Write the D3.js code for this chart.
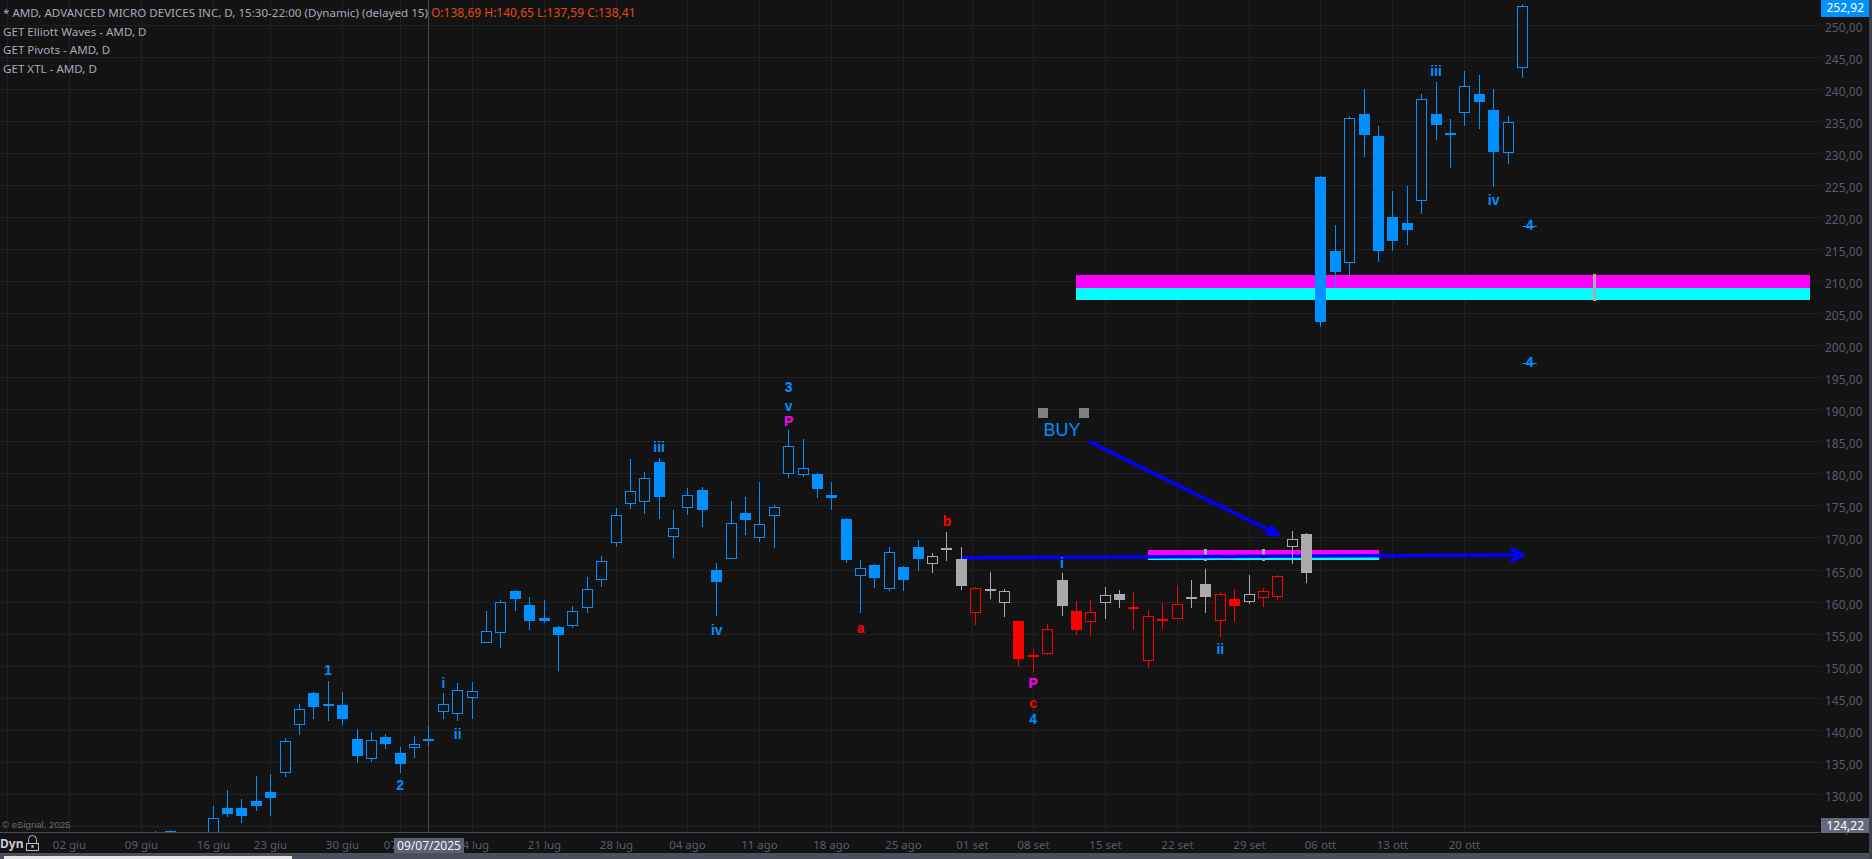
<!DOCTYPE html>
<html>
<head>
<meta charset="utf-8">
<script src="https://cdn.jsdelivr.net/npm/d3@7"></script>
<style>
  html, body { margin: 0; padding: 0; background: #131313; overflow: hidden; }
  svg { display: block; }
  text { font-family: "Noto Sans", sans-serif; }
</style>
</head>
<body>
<svg id="chart"></svg>
<script>
// first bar in the arrays sits at this index (02 giu = 0)
const firstBar = 6;
const opens = [123.5,124.2,122.8,122.1,122.6,127.81,127.81,128.91,130.31,133.39,140.89,145.78,144.11,143.96,138.65,135.57,138.96,136.46,137.29,138.69,142.97,142.66,145.16,153.7,155.26,161.72,159.53,157.5,156.09,156.35,159.17,163.59,169.22,175.31,175.63,181.88,170.16,174.69,177.5,165,166.82,173.91,170.1,173.44,180,179.84,180,176.72,172.97,164.22,165.78,162.14,165.47,168.59,166.04,168.44,166.77,158.39,162.08,159.95,157.08,151.77,151.98,163.49,158.65,156.98,159.95,161.3,159.27,150.89,157.4,157.45,160.83,162.86,157.14,160.52,160.1,160.73,160.89,168.7,170.68,226.3,214.74,212.92,236.15,232.71,220.05,219.11,222.6,236.15,233.18,236.35,239.27,236.77,230.1,243.39];
const highs = [124.3,124.4,123.6,123.4,128.18,130.68,129.27,132.86,133.18,138.75,144.11,145.99,147.71,145.99,140.21,139.74,139.43,137.4,139.11,140.65,145.78,147.34,147.55,158.65,160.36,161.93,160.78,160.36,156.3,159.43,163.91,167.24,174.69,182.34,180.31,182.5,174.38,177.81,177.97,166.09,175.78,176.41,178.75,175.16,186.77,185.47,180.21,178.75,173.18,166.56,165.99,168.59,165.63,169.69,167.66,170.94,168.59,162.4,164.74,162.03,157.24,152.66,156.61,164.58,160.21,160.36,162.4,161.93,161.61,158.8,159.84,162.66,163.49,165.21,161.61,162.03,164.27,162.24,164.22,171.15,170.7,226.56,218.8,235.83,240.05,234.27,224.11,224.9,239.27,241.15,235.36,242.86,242.24,240.05,235.83,253.28];
const lows = [122.4,121.9,121.6,120.9,121.4,126.5,125.57,127.4,126.67,132.76,139.32,141.82,141.51,140.89,134.95,135.05,137.14,133.33,135.68,137.59,141.82,141.51,141.82,153.54,152.76,158.54,155.68,156.72,149.3,155.89,158.23,162.29,168.54,174.58,173.7,172.92,166.82,173.54,171.67,157.76,166.67,170.42,169.32,168.39,179.32,179.48,176.2,174.32,166.04,158.23,162.14,161.67,161.67,164.79,164.58,166.46,161.82,156.46,160.52,157.71,150.05,149.11,151.77,157.87,154.9,154.74,157.4,159.11,155.68,149.74,155.83,157.45,159.11,158.33,154.58,156.93,159.74,159.27,160.36,165.99,163.02,202.86,209.06,210.57,229.43,213.02,214.74,215.68,220.52,232.08,227.71,234.27,233.8,224.74,228.33,241.77];
const closes = [124,123.1,122.2,121.4,126.25,126.98,126.67,128.23,129.48,138.23,143.28,143.7,143.85,141.77,136.04,138.44,137.92,134.79,137.71,138.41,144.06,146.25,146.09,155.42,160,160.42,156.98,156.98,154.79,158.54,162.03,166.35,173.54,177.29,179.32,176.35,171.51,176.67,174.32,163.07,172.29,172.76,172.14,174.79,184.32,180.89,177.6,176.2,166.51,165.16,163.7,167.66,163.39,166.67,167.03,168.18,162.55,162.19,161.82,161.72,151.15,151.35,155.78,159.43,155.68,158.44,161.09,160.36,158.96,157.81,157.08,159.69,160.52,160.83,161.25,159.43,161.25,161.72,163.91,169.69,164.58,203.65,211.46,235.47,232.86,214.74,216.3,218.02,238.44,234.43,232.86,240.47,238.02,230.21,234.84,252.86];
// b blue, g gray, r red
const tones = "bbbbbbbbbbbbbbbbbbbbbbbbbbbbbbbbbbbbbbbbbbbbbbbbbbbbbb" + "gggrggrrrgrrggrrrrggrrgrrgg" + "bbbbbbbbbbbbbbb";

const tickBars = [0,5,10,14,19,23,28,33,38,43,48,53,58,62.77,67,72,77,82,87,92,97];
const tickLabels = ["02 giu","09 giu","16 giu","23 giu","30 giu","07 lug","14 lug","21 lug","28 lug","04 ago","11 ago","18 ago","25 ago","01 set","08 set","15 set","22 set","29 set","06 ott","13 ott","20 ott"];
const extraGridBars = [-4.27];
const priceTicks = d3.range(125, 255, 5);

const waveText = ["1","2","i","ii","iii","iv","3","v","P","a","b","i","P","c","4","ii","iii","iv","4","4"];
const waveBars = [18,23,26,27,41,45,50,50,50,55,61,69,67,67,67,80,95,99,101.5,101.5];
const wavePrices = [149.45,131.5,147.4,139.46,184.2,155.64,193.61,190.65,188.2,156,172.6,166.04,147.3,144.3,141.8,152.7,242.92,222.75,218.9,197.5];
const waveTones = ["b","b","b","b","b","b","b","b","m","r","r","b","m","r","b","b","b","b","b","b"];

const dashPrices = [218.68, 197.25];
const dashBars = [101, 102];

// zone: from bar, to bar, top, middle, bottom
const zoneFrom = [75, 70];
const zoneTo = [91, 121];
const zoneTop = [168.12, 211.04];
const zoneMid = [167.05, 209.05];
const zoneBottom = [166.57, 207.1];

const markerBars = [79, 83, 106];
const markerTop = [168.27, 168.27, 211.19];
const markerBottom = [166.45, 166.45, 206.97];

const buyBars = [67.68, 70.53];
const buyPrice = 189.5;
const arrowA = [[70.9, 185.02], [84.08, 170.46]];
const arrowB = [[62, 166.92], [101, 167.35]];

const colors = { b: "#0090ff", g: "#a9a9ae", r: "#ff0000", m: "#ff00ff" };
const bg = "#131313";
const gridColor = "#1e2024";
const axisText = "#565b6c";

const W = 1872, H = 859, plotRight = 1820, plotBottom = 832;

const svg = d3.select("#chart").attr("width", W).attr("height", H);

const x = d3.scaleLinear().domain([0, 101]).range([69.3, 1522.4]);
const y = d3.scaleLinear().domain([130, 250]).range([794.3, 25.3]);
const px = v => Math.floor(v) + 0.5;

svg.append("rect").attr("width", W).attr("height", H).attr("fill", bg);

svg.append("defs").append("clipPath").attr("id", "plot")
  .append("rect").attr("width", plotRight).attr("height", plotBottom);

// grid + axes
const yAxis = svg.append("g").attr("class", "y-axis")
  .call(d3.axisRight(y).tickValues(priceTicks).tickSize(plotRight).tickPadding(5).offset(0)
    .tickFormat(d => d3.format(".2f")(d).replace(".", ",")));
yAxis.select(".domain").remove();
yAxis.selectAll(".tick").attr("transform", d => `translate(0,${px(y(d))})`);
yAxis.selectAll("line").attr("stroke", gridColor).attr("shape-rendering", "crispEdges");
yAxis.selectAll("text").attr("fill", axisText).style("font-size", "12px").attr("dy", "0.5em");

const xAxis = svg.append("g").attr("class", "x-axis")
  .attr("transform", `translate(0,${plotBottom})`)
  .call(d3.axisBottom(x).tickValues(extraGridBars.concat(tickBars)).tickSize(-plotBottom).tickPadding(9).offset(0)
    .tickFormat(d => { const i = tickBars.indexOf(d); return i < 0 ? "" : tickLabels[i]; }));
xAxis.select(".domain").remove();
xAxis.selectAll(".tick").attr("transform", d => `translate(${px(x(d))},0)`);
xAxis.selectAll("line").attr("stroke", gridColor).attr("shape-rendering", "crispEdges");
xAxis.selectAll("text").attr("fill", axisText).style("font-size", "11.5px");

const plot = svg.append("g").attr("clip-path", "url(#plot)");

// crosshair
plot.append("line")
  .attr("x1", px(x(25))).attr("x2", px(x(25))).attr("y1", 0).attr("y2", plotBottom)
  .attr("stroke", "#464a59");

// zones
zoneFrom.forEach((from, i) => {
  plot.append("rect")
    .attr("x", Math.round(x(from))).attr("width", Math.round(x(zoneTo[i])) - Math.round(x(from)))
    .attr("y", Math.round(y(zoneTop[i]))).attr("height", Math.round(y(zoneMid[i])) - Math.round(y(zoneTop[i])))
    .attr("fill", "#ff00ff");
  plot.append("rect")
    .attr("x", Math.round(x(from))).attr("width", Math.round(x(zoneTo[i])) - Math.round(x(from)))
    .attr("y", Math.round(y(zoneMid[i]))).attr("height", Math.round(y(zoneBottom[i])) - Math.round(y(zoneMid[i])))
    .attr("fill", "#00ffff");
});

markerBars.forEach((b, i) => {
  plot.append("rect")
    .attr("x", Math.floor(x(b)) - 1).attr("width", 3)
    .attr("y", Math.round(y(markerTop[i]))).attr("height", Math.round(y(markerBottom[i])) - Math.round(y(markerTop[i])))
    .attr("fill", colors.g);
});
plot.append("line")
  .attr("x1", Math.round(x(80))).attr("x2", Math.round(x(81))).attr("y1", px(y(166.58))).attr("y2", px(y(166.58)))
  .attr("stroke", colors.g);

// arrows
const lineGen = d3.line().x(d => x(d[0])).y(d => y(d[1]));
function drawArrow(pts, head, spread, filled) {
  plot.append("path").attr("d", lineGen(pts))
    .attr("fill", "none").attr("stroke", "#0000ff").attr("stroke-width", 3.6);
  const x2 = x(pts[1][0]), y2 = y(pts[1][1]);
  const a = Math.atan2(y2 - y(pts[0][1]), x2 - x(pts[0][0]));
  const p1 = [x2 - head * Math.cos(a - spread), y2 - head * Math.sin(a - spread)];
  const p2 = [x2 - head * Math.cos(a + spread), y2 - head * Math.sin(a + spread)];
  plot.append("path").attr("d", `M${p1}L${x2},${y2}L${p2}` + (filled ? "Z" : ""))
    .attr("fill", filled ? "#0000ff" : "none").attr("stroke", "#0000ff").attr("stroke-width", filled ? 2.5 : 4)
    .attr("stroke-linecap", "round").attr("stroke-linejoin", "round");
}
drawArrow(arrowB, 12, 0.5, false);

// candles
const bars = opens.map((o, i) => ({
  idx: i + firstBar, o, h: highs[i], l: lows[i], c: closes[i], tone: colors[tones[i]]
}));
const candle = plot.selectAll(".candle").data(bars).enter().append("g").attr("class", "candle");
candle.append("line")
  .attr("x1", d => px(x(d.idx))).attr("x2", d => px(x(d.idx)))
  .attr("y1", d => Math.round(y(d.h))).attr("y2", d => Math.round(y(d.l)))
  .attr("stroke", d => d.tone).attr("shape-rendering", "crispEdges");
candle.filter(d => d.c < d.o).append("rect")
  .attr("x", d => Math.floor(x(d.idx)) - 5).attr("width", 11)
  .attr("y", d => Math.round(y(d.o)))
  .attr("height", d => Math.max(2, Math.round(y(d.c)) - Math.round(y(d.o))))
  .attr("fill", d => d.tone);
candle.filter(d => d.c >= d.o).append("rect")
  .attr("x", d => Math.floor(x(d.idx)) - 5 + 0.5).attr("width", 10)
  .attr("y", d => px(y(d.c)))
  .attr("height", d => Math.max(1, px(y(d.o)) - px(y(d.c))))
  .attr("fill", bg).attr("stroke", d => d.tone);

drawArrow(arrowA, 12, 0.42, true);

// wave labels
plot.selectAll(".wave").data(waveText).enter().append("text")
  .attr("class", "wave")
  .attr("x", (d, i) => x(waveBars[i]))
  .attr("y", (d, i) => y(wavePrices[i]))
  .attr("text-anchor", "middle").attr("dominant-baseline", "central")
  .attr("fill", (d, i) => colors[waveTones[i]])
  .style("font-family", "'Liberation Sans', sans-serif").style("font-size", "14px").style("font-weight", "bold")
  .text(d => d);

dashPrices.forEach(p => {
  plot.append("line")
    .attr("x1", x(dashBars[0])).attr("x2", x(dashBars[1])).attr("y1", px(y(p))).attr("y2", px(y(p)))
    .attr("stroke", colors.b);
});

// BUY annotation
buyBars.forEach(b => {
  plot.append("rect")
    .attr("x", Math.round(x(b)) - 5).attr("y", Math.round(y(buyPrice)) - 5)
    .attr("width", 10).attr("height", 10).attr("fill", "#808080");
});
plot.append("text")
  .attr("x", x(69)).attr("y", y(185.9))
  .attr("text-anchor", "middle").attr("fill", colors.b)
  .style("font-family", "'Liberation Sans', sans-serif").style("font-size", "18px")
  .text("BUY");

// header
const headerColor = "#a3abbc";
svg.append("text").attr("x", 3).attr("y", 17).attr("fill", headerColor).style("font-size", "11.6px")
  .text("* AMD, ADVANCED MICRO DEVICES INC, D, 15:30-22:00 (Dynamic) (delayed 15)");
svg.append("text").attr("x", 431).attr("y", 17).attr("fill", "#e8480f").style("font-size", "12px")
  .text("O:138,69 H:140,65 L:137,59 C:138,41");
["GET Elliott Waves - AMD, D", "GET Pivots - AMD, D", "GET XTL - AMD, D"].forEach((t, i) => {
  svg.append("text").attr("x", 3).attr("y", 36 + i * 18.3).attr("fill", headerColor).style("font-size", "11.6px").text(t);
});

svg.append("text").attr("x", 2).attr("y", 828).attr("fill", "#6c6c6c")
  .style("font-family", "'Liberation Sans', sans-serif").style("font-size", "9.6px")
  .text("© eSignal, 2025");

// axis line, crosshair date, price boxes
svg.append("line").attr("x1", 0).attr("x2", plotRight).attr("y1", plotBottom + 0.5).attr("y2", plotBottom + 0.5).attr("stroke", "#464a59");

svg.append("rect").attr("x", 394).attr("y", 838).attr("width", 70).attr("height", 15).attr("fill", "#5c6174");
svg.append("text").attr("x", px(x(25)) + 0.5).attr("y", 850).attr("text-anchor", "middle").attr("fill", "#f2f2f2")
  .style("font-size", "12px").text("09/07/2025");

svg.append("rect").attr("x", 1821).attr("y", 0).attr("width", 48).attr("height", 17).attr("fill", colors.b);
svg.append("text").attr("x", 1864).attr("y", 12).attr("text-anchor", "end").attr("fill", "#fff")
  .style("font-size", "12px").text("252,92");
svg.append("rect").attr("x", 1821).attr("y", 818).attr("width", 48).attr("height", 15).attr("fill", "#656b7e");
svg.append("text").attr("x", 1864).attr("y", 830).attr("text-anchor", "end").attr("fill", "#fff")
  .style("font-size", "12px").text("124,22");

// bottom and right chrome
svg.append("rect").attr("x", 0).attr("y", 853).attr("width", W).attr("height", 6).attr("fill", "#4a4e5e");
svg.append("rect").attr("x", 4).attr("y", 856).attr("width", 288).attr("height", 3).attr("fill", "#e6e6e6");
svg.append("rect").attr("x", 1869).attr("y", 0).attr("width", 3).attr("height", H).attr("fill", "#3e4150");

svg.append("text").attr("x", 0).attr("y", 848).attr("fill", "#c8ccd6")
  .style("font-size", "12px").style("font-weight", "bold").text("Dyn");
// lock icon
const lock = svg.append("g").attr("fill", "none").attr("stroke", "#b4b8c4").attr("stroke-width", 1);
lock.append("path").attr("d", "M28.5,843 V839.5 a4,4 0 0 1 8,0 V843");
lock.append("rect").attr("x", 26.5).attr("y", 843.5).attr("width", 12).attr("height", 7);
lock.append("circle").attr("cx", 32.5).attr("cy", 846.5).attr("r", 1).attr("fill", "#b4b8c4");
</script>
</body>
</html>
